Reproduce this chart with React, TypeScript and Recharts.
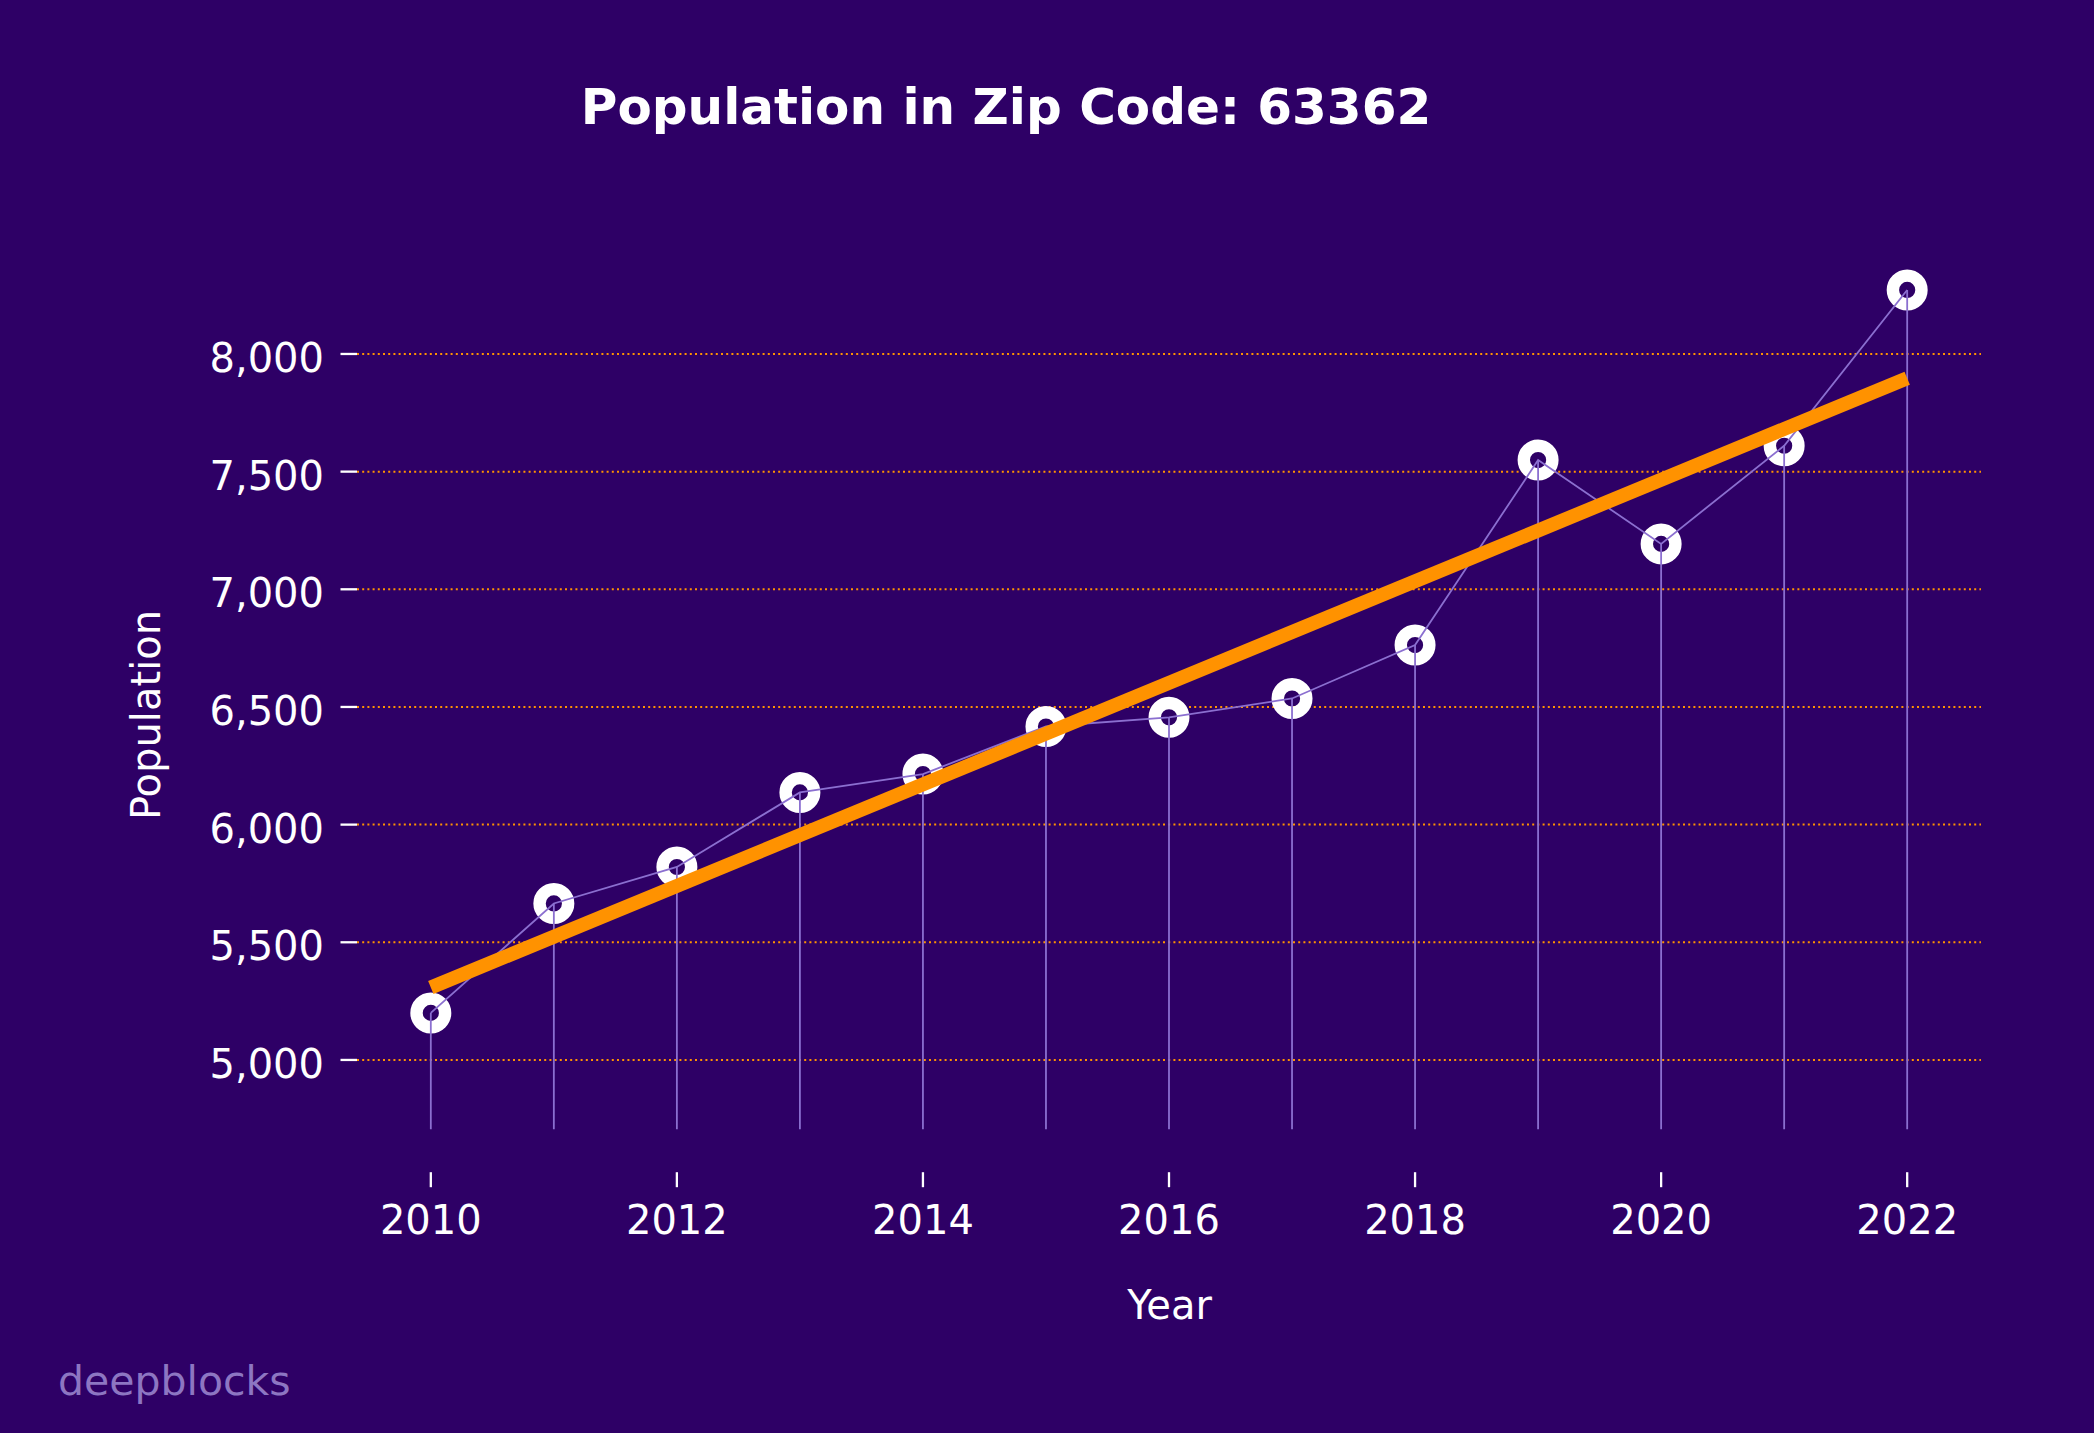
import { ComposedChart, Line, Scatter, XAxis, YAxis, CartesianGrid } from "recharts";

const years = [2010, 2011, 2012, 2013, 2014, 2015, 2016, 2017, 2018, 2019, 2020, 2021, 2022];
const population = [5200, 5665, 5820, 6137, 6215, 6417, 6456, 6536, 6763, 7549, 7193, 7610, 8272];
const trendYears = [2010, 2022];
const trendValues = [5308, 7897];
const stemBase = 4705;
const xTicks = [2010, 2012, 2014, 2016, 2018, 2020, 2022];
const yTicks = [5000, 5500, 6000, 6500, 7000, 7500, 8000];

const BG = "#2e0066";
const LAVENDER = "#8b6fd0";
const ORANGE = "#ff9200";
const FONT = "DejaVu Sans";

const data = years.map((year, i) => ({ year, population: population[i] }));
const trend = trendYears.map((year, i) => ({ year, trend: trendValues[i] }));

const W = 2094;
const H = 1433;

function renderRing(props: any) {
  const { cx, cy } = props;
  if (cx == null || cy == null) return <g />;
  return <circle cx={cx} cy={cy} r={14.3} fill="none" stroke="#ffffff" strokeWidth={12.4} />;
}

function XTick(props: any) {
  const { x, y, payload } = props;
  return (
    <text x={x} y={y + 47} textAnchor="middle" fill="#ffffff" fontSize={40} fontFamily={FONT}>
      {payload.value}
    </text>
  );
}

function YTick(props: any) {
  const { x, y, payload } = props;
  return (
    <text x={x - 16.5} y={y + 18} textAnchor="end" fill="#ffffff" fontSize={40} fontFamily={FONT}>
      {Number(payload.value).toLocaleString("en-US")}
    </text>
  );
}

export default function App() {
  return (
    <div style={{ position: "absolute", left: 0, top: 0, width: W, height: H, background: BG, overflow: "hidden" }}>
      <ComposedChart
        width={W}
        height={H}
        data={data}
        margin={{ top: 247.6, right: 113, bottom: 200.8, left: 257 }}
      >
        <CartesianGrid
          horizontal
          vertical={false}
          syncWithTicks
          stroke={ORANGE}
          strokeWidth={2}
          strokeDasharray="2 3.2"
        />
        <XAxis
          dataKey="year"
          type="number"
          domain={[2009.4, 2022.6]}
          ticks={xTicks}
          allowDataOverflow
          height={60}
          axisLine={false}
          tickSize={15}
          tickMargin={0}
          tickLine={{ stroke: "#ffffff", strokeWidth: 2.3 }}
          tick={<XTick />}
          interval={0}
        />
        <YAxis
          type="number"
          domain={[4523, 8452]}
          ticks={yTicks}
          allowDataOverflow
          width={100}
          axisLine={false}
          tickSize={16.5}
          tickMargin={0}
          tickLine={{ stroke: "#ffffff", strokeWidth: 2.3 }}
          tick={<YTick />}
          interval={0}
        />
        {/* rings sit under the thin lines and the trend, as in the original */}
        <Scatter dataKey="population" shape={renderRing} isAnimationActive={false} zIndex={350} />
        {years.map((year, i) => (
          <Line
            key={`stem-${year}`}
            data={[
              { year, stem: stemBase },
              { year, stem: population[i] },
            ]}
            dataKey="stem"
            stroke={LAVENDER}
            strokeWidth={1.8}
            dot={false}
            activeDot={false}
            isAnimationActive={false}
          />
        ))}
        <Line
          dataKey="population"
          stroke={LAVENDER}
          strokeWidth={1.8}
          dot={false}
          activeDot={false}
          isAnimationActive={false}
        />
        <Line
          data={trend}
          dataKey="trend"
          stroke={ORANGE}
          strokeWidth={14}
          strokeLinecap="butt"
          dot={false}
          activeDot={false}
          isAnimationActive={false}
        />
      </ComposedChart>
      <svg width={W} height={H} style={{ position: "absolute", left: 0, top: 0, pointerEvents: "none" }}>
        <text x={1006} y={124} textAnchor="middle" fill="#ffffff" fontSize={50} fontWeight="bold" fontFamily={FONT}>
          Population in Zip Code: 63362
        </text>
        <text x={1169.5} y={1319} textAnchor="middle" fill="#ffffff" fontSize={40} fontFamily={FONT}>
          Year
        </text>
        <text
          x={0}
          y={0}
          transform="translate(160 715) rotate(-90)"
          textAnchor="middle"
          fill="#ffffff"
          fontSize={40}
          fontFamily={FONT}
        >
          Population
        </text>
        <text x={58} y={1395} fill="#8d76c2" fontSize={41} fontFamily={FONT}>
          deepblocks
        </text>
      </svg>
    </div>
  );
}
